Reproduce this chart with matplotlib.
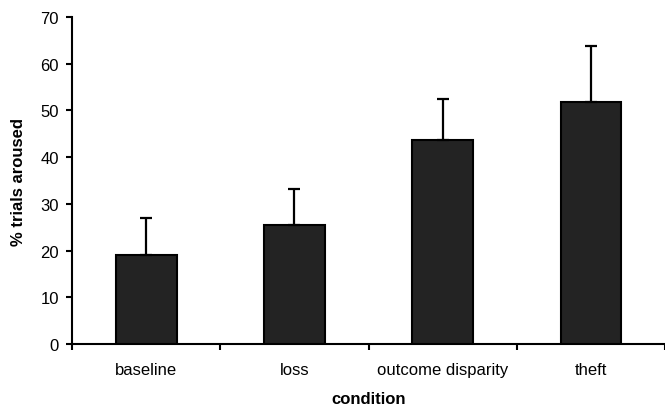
import matplotlib.pyplot as plt
import numpy as np

plt.rcParams['font.family'] = ['Liberation Sans', 'DejaVu Sans']

conditions = ["baseline", "loss", "outcome disparity", "theft"]
pct_aroused = [19.1, 25.5, 43.7, 51.9]
err_upper = [7.8, 7.7, 8.8, 12.0]

fig = plt.figure(figsize=(6.65, 4.10), dpi=100)
ax = fig.add_axes([0.1083, 0.1585, 0.892, 0.7975])

x = np.arange(len(conditions))
ax.bar(x, pct_aroused, width=0.41, color="#232323", edgecolor="black", linewidth=1.5,
       yerr=[np.zeros(len(err_upper)), err_upper], capsize=4,
       error_kw=dict(elinewidth=1.6, capthick=1.6, ecolor="black"), zorder=3)

ax.set_xlim(-0.5, 3.5)
ax.set_ylim(0, 70)
ax.set_yticks(range(0, 71, 10))
ax.set_xticks(x)
ax.set_xticklabels(conditions)
ax.set_xticks(np.arange(-0.5, 3.6, 1), minor=True)
ax.tick_params(axis="x", which="major", length=0, pad=13, labelsize=12)
ax.tick_params(axis="x", which="minor", length=4.5, width=1.5, direction="out")
ax.tick_params(axis="y", length=4.5, width=1.5, labelsize=12, pad=5)

for s in ["top", "right"]:
    ax.spines[s].set_visible(False)
for s in ["left", "bottom"]:
    ax.spines[s].set_linewidth(1.5)

ax.set_ylabel("% trials aroused", fontsize=12, fontweight="bold", labelpad=10)
ax.set_xlabel("condition", fontsize=12, fontweight="bold", labelpad=10)

fig.savefig("out.png", dpi=100)
